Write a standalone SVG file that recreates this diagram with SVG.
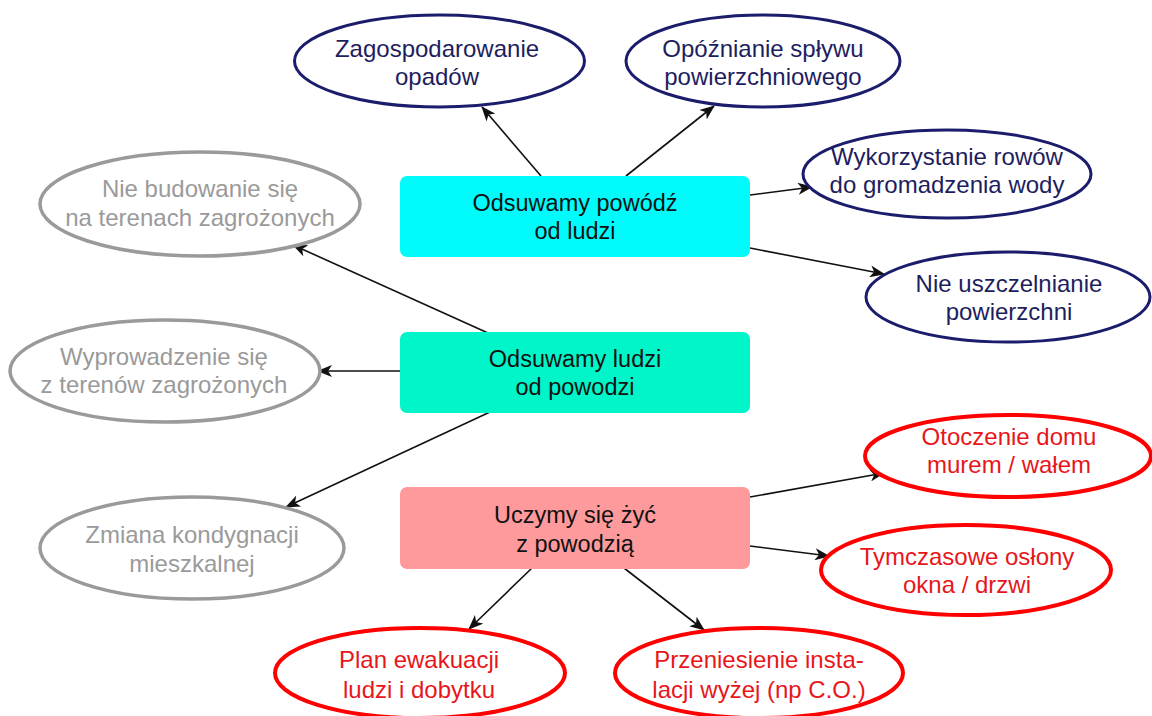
<svg xmlns="http://www.w3.org/2000/svg" width="1152" height="716" viewBox="0 0 1152 716">
<style>
text{font-family:"Liberation Sans",Arial,sans-serif;font-size:24px;text-anchor:middle}
.box text{fill:#111;font-size:23.5px}
.navy ellipse{fill:#fff;stroke:#1c1c6c;stroke-width:3}
.navy text{fill:#1e1e5e}
.gray ellipse{fill:#fff;stroke:#9a9a9a;stroke-width:3.5}
.gray text{fill:#9a9a9a}
.red ellipse{fill:#fff;stroke:#ff0000;stroke-width:4}
.red text{fill:#e8161b}
#connectors line{stroke:#111;stroke-width:1.6;marker-end:url(#arr)}
</style>
<defs>
<marker id="arr" markerUnits="userSpaceOnUse" markerWidth="16" markerHeight="12" refX="14" refY="6" orient="auto">
<path d="M0,0 L15,6 L0,12 L4,6 z" fill="#111"/>
</marker>
</defs>
<rect width="1152" height="716" fill="#fff"/>
<g id="connectors">
<line x1="541" y1="176" x2="482" y2="107"/>
<line x1="626" y1="176" x2="714" y2="106"/>
<line x1="750" y1="195" x2="812" y2="187"/>
<line x1="750" y1="248" x2="884" y2="274"/>
<line x1="488" y1="333" x2="293" y2="245"/>
<line x1="401" y1="371" x2="318" y2="371"/>
<line x1="490" y1="412" x2="286" y2="507"/>
<line x1="750" y1="497" x2="884" y2="473"/>
<line x1="750" y1="546" x2="829" y2="556"/>
<line x1="532" y1="568" x2="469" y2="629"/>
<line x1="624" y1="568" x2="704" y2="630"/>
</g>
<g id="box-powodz" class="box">
<rect x="400" y="176" width="350" height="81" rx="7" fill="#00fbfb"/>
<text x="575" y="211">Odsuwamy powódź</text>
<text x="575" y="239">od ludzi</text>
</g>
<g id="box-ludzi" class="box">
<rect x="400" y="332" width="350" height="81" rx="7" fill="#00f5c8"/>
<text x="575" y="367">Odsuwamy ludzi</text>
<text x="575" y="395">od powodzi</text>
</g>
<g id="box-zyc" class="box">
<rect x="400" y="487" width="350" height="82" rx="7" fill="#ff9a9c"/>
<text x="575" y="523">Uczymy się żyć</text>
<text x="575" y="552">z powodzią</text>
</g>
<g id="n-zagospodarowanie" class="navy">
<ellipse cx="439.5" cy="61" rx="145" ry="46"/>
<text x="437" y="57">Zagospodarowanie</text>
<text x="437" y="85">opadów</text>
</g>
<g id="n-opoznianie" class="navy">
<ellipse cx="763" cy="61" rx="137" ry="46"/>
<text x="763" y="57">Opóźnianie spływu</text>
<text x="763" y="85">powierzchniowego</text>
</g>
<g id="n-wykorzystanie" class="navy">
<ellipse cx="947" cy="174" rx="144" ry="44"/>
<text x="947" y="165">Wykorzystanie rowów</text>
<text x="947" y="193">do gromadzenia wody</text>
</g>
<g id="n-uszczelnianie" class="navy">
<ellipse cx="1008" cy="297" rx="142" ry="45"/>
<text x="1009" y="292">Nie uszczelnianie</text>
<text x="1009" y="320">powierzchni</text>
</g>
<g id="n-budowanie" class="gray">
<ellipse cx="200" cy="204" rx="160" ry="52"/>
<text x="200" y="197">Nie budowanie się</text>
<text x="200" y="226">na terenach zagrożonych</text>
</g>
<g id="n-wyprowadzenie" class="gray">
<ellipse cx="165" cy="371" rx="155" ry="51"/>
<text x="164" y="365">Wyprowadzenie się</text>
<text x="164" y="393">z terenów zagrożonych</text>
</g>
<g id="n-zmiana" class="gray">
<ellipse cx="192" cy="548" rx="152" ry="51"/>
<text x="192" y="543">Zmiana kondygnacji</text>
<text x="192" y="572">mieszkalnej</text>
</g>
<g id="n-otoczenie" class="red">
<ellipse cx="1008" cy="456" rx="143" ry="41"/>
<text x="1009" y="445">Otoczenie domu</text>
<text x="1009" y="473">murem / wałem</text>
</g>
<g id="n-tymczasowe" class="red">
<ellipse cx="966" cy="570" rx="145" ry="45"/>
<text x="967" y="565">Tymczasowe osłony</text>
<text x="967" y="593">okna / drzwi</text>
</g>
<g id="n-plan" class="red">
<ellipse cx="420" cy="673" rx="145" ry="45"/>
<text x="419" y="668">Plan ewakuacji</text>
<text x="419" y="698">ludzi i dobytku</text>
</g>
<g id="n-przeniesienie" class="red">
<ellipse cx="759" cy="673" rx="144" ry="45"/>
<text x="759" y="668">Przeniesienie insta-</text>
<text x="759" y="698">lacji wyżej (np C.O.)</text>
</g>
</svg>
